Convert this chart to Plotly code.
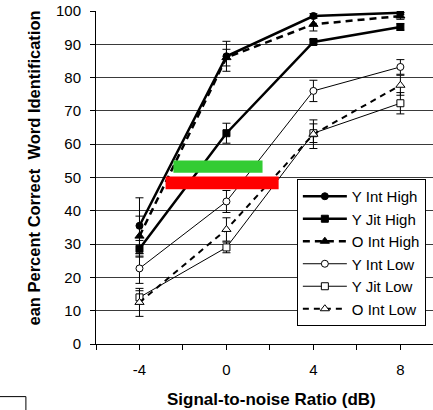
import plotly.graph_objects as go

# ---- data ----
snr = [-4, 0, 4, 8]
series_names = ["Y Int High", "Y Jit High", "O Int High", "Y Int Low", "Y Jit Low", "O Int Low"]
y_int_high = [35.5, 86.4, 98.5, 99.5]
y_int_high_err = [8.4, 4.5, 0.7, 0.6]
y_jit_high = [28.6, 63.3, 90.7, 95.2]
y_jit_high_err = [2.5, 3.0, 0.8, 1.0]
o_int_high = [32.4, 86.0, 96.0, 98.5]
o_int_high_err = [6.0, 2.5, 2.0, 1.0]
y_int_low = [22.7, 42.8, 76.0, 83.2]
y_int_low_err = [4.5, 3.3, 3.2, 2.2]
y_jit_low = [14.0, 29.0, 63.3, 72.3]
y_jit_low_err = [2.0, 1.6, 2.8, 3.2]
o_int_low = [12.5, 34.4, 63.0, 77.7]
o_int_low_err = [4.2, 3.5, 4.3, 3.0]

x_tick_vals = [-6, -4, -2, 0, 2, 4, 6, 8]
x_tick_text = ["", "-4", "", "0", "", "4", "", "8"]
y_tick_vals = [0, 10, 20, 30, 40, 50, 60, 70, 80, 90, 100]

# highlight bars (x0, x1, y0, y1) in data units
green_bar = [-2.44, 1.66, 51.4, 55.1]
red_bar = [-2.8, 2.4, 46.5, 50.3]

FONT = "Liberation Sans, Arial, sans-serif"

styles = [
    dict(values=y_int_high, err=y_int_high_err, width=2.5, dash="solid", symbol="circle", size=7, fill="black"),
    dict(values=y_jit_high, err=y_jit_high_err, width=2.5, dash="solid", symbol="square", size=7, fill="black"),
    dict(values=o_int_high, err=o_int_high_err, width=2.5, dash="7px,5px", symbol="triangle-up", size=8, fill="black"),
    dict(values=y_int_low, err=y_int_low_err, width=1, dash="solid", symbol="circle", size=7, fill="white"),
    dict(values=y_jit_low, err=y_jit_low_err, width=1, dash="solid", symbol="square", size=7, fill="white"),
    dict(values=o_int_low, err=o_int_low_err, width=2, dash="6px,5px", symbol="triangle-up", size=8, fill="white"),
]

fig = go.Figure()
for i, (name, s) in enumerate(zip(series_names, styles)):
    fig.add_trace(go.Scatter(
        x=snr, y=s["values"], name=name, mode="lines+markers",
        line=dict(color="black", width=s["width"], dash=s["dash"]),
        marker=dict(symbol=s["symbol"], size=s["size"], color=s["fill"],
                    line=dict(color="black", width=1)),
        error_y=dict(type="data", array=s["err"], visible=True,
                     color="black", thickness=1, width=4),
    ))

for bar, col in [(green_bar, "#33CC33"), (red_bar, "#FF0000")]:
    fig.add_shape(type="rect", xref="x", yref="y",
                  x0=bar[0], x1=bar[1], y0=bar[2], y1=bar[3],
                  fillcolor=col, line=dict(width=0), layer="above")

# stray frame corner in lower-left
fig.add_shape(type="rect", xref="paper", yref="paper",
              x0=-0.4, x1=-0.208, y0=-0.158, y1=-0.4,
              line=dict(color="black", width=1), fillcolor="rgba(0,0,0,0)")

fig.add_annotation(text="<b>ean Percent Correct\u00a0 Word Identification</b>",
                   xref="paper", yref="paper", x=-0.184, y=0.53,
                   textangle=-90, showarrow=False,
                   font=dict(family=FONT, size=16.5, color="black"),
                   xanchor="center", yanchor="middle")
fig.add_annotation(text="<b>Signal-to-noise Ratio (dB)</b>",
                   xref="paper", yref="paper", x=0.522, y=-0.168,
                   showarrow=False,
                   font=dict(family=FONT, size=17, color="black"),
                   xanchor="center", yanchor="middle")

fig.update_layout(
    width=433, height=410,
    margin=dict(l=96, r=0, t=11, b=66),
    paper_bgcolor="white", plot_bgcolor="white",
    font=dict(family=FONT, size=15, color="black"),
    showlegend=True,
    legend=dict(x=0.596, y=0.4955, xanchor="left", yanchor="top",
                traceorder="normal",
                bgcolor="white", bordercolor="black", borderwidth=1,
                font=dict(family=FONT, size=15, color="black"),
                itemwidth=44),
    xaxis=dict(range=[-6, 9.5], tickvals=x_tick_vals, ticktext=x_tick_text,
               showgrid=False, zeroline=False, showline=True,
               linecolor="black", linewidth=1,
               ticks="outside", ticklen=5, tickcolor="black",
               ticklabelstandoff=7,
               tickfont=dict(family=FONT, size=15, color="black")),
    yaxis=dict(range=[0, 100], tickvals=y_tick_vals,
               showgrid=True, gridcolor="#3a3a3a", gridwidth=1,
               zeroline=False, showline=True, linecolor="black", linewidth=1,
               ticks="outside", ticklen=5, tickcolor="black",
               ticklabelstandoff=6,
               tickfont=dict(family=FONT, size=15, color="black")),
)

fig.write_html("out.html")
